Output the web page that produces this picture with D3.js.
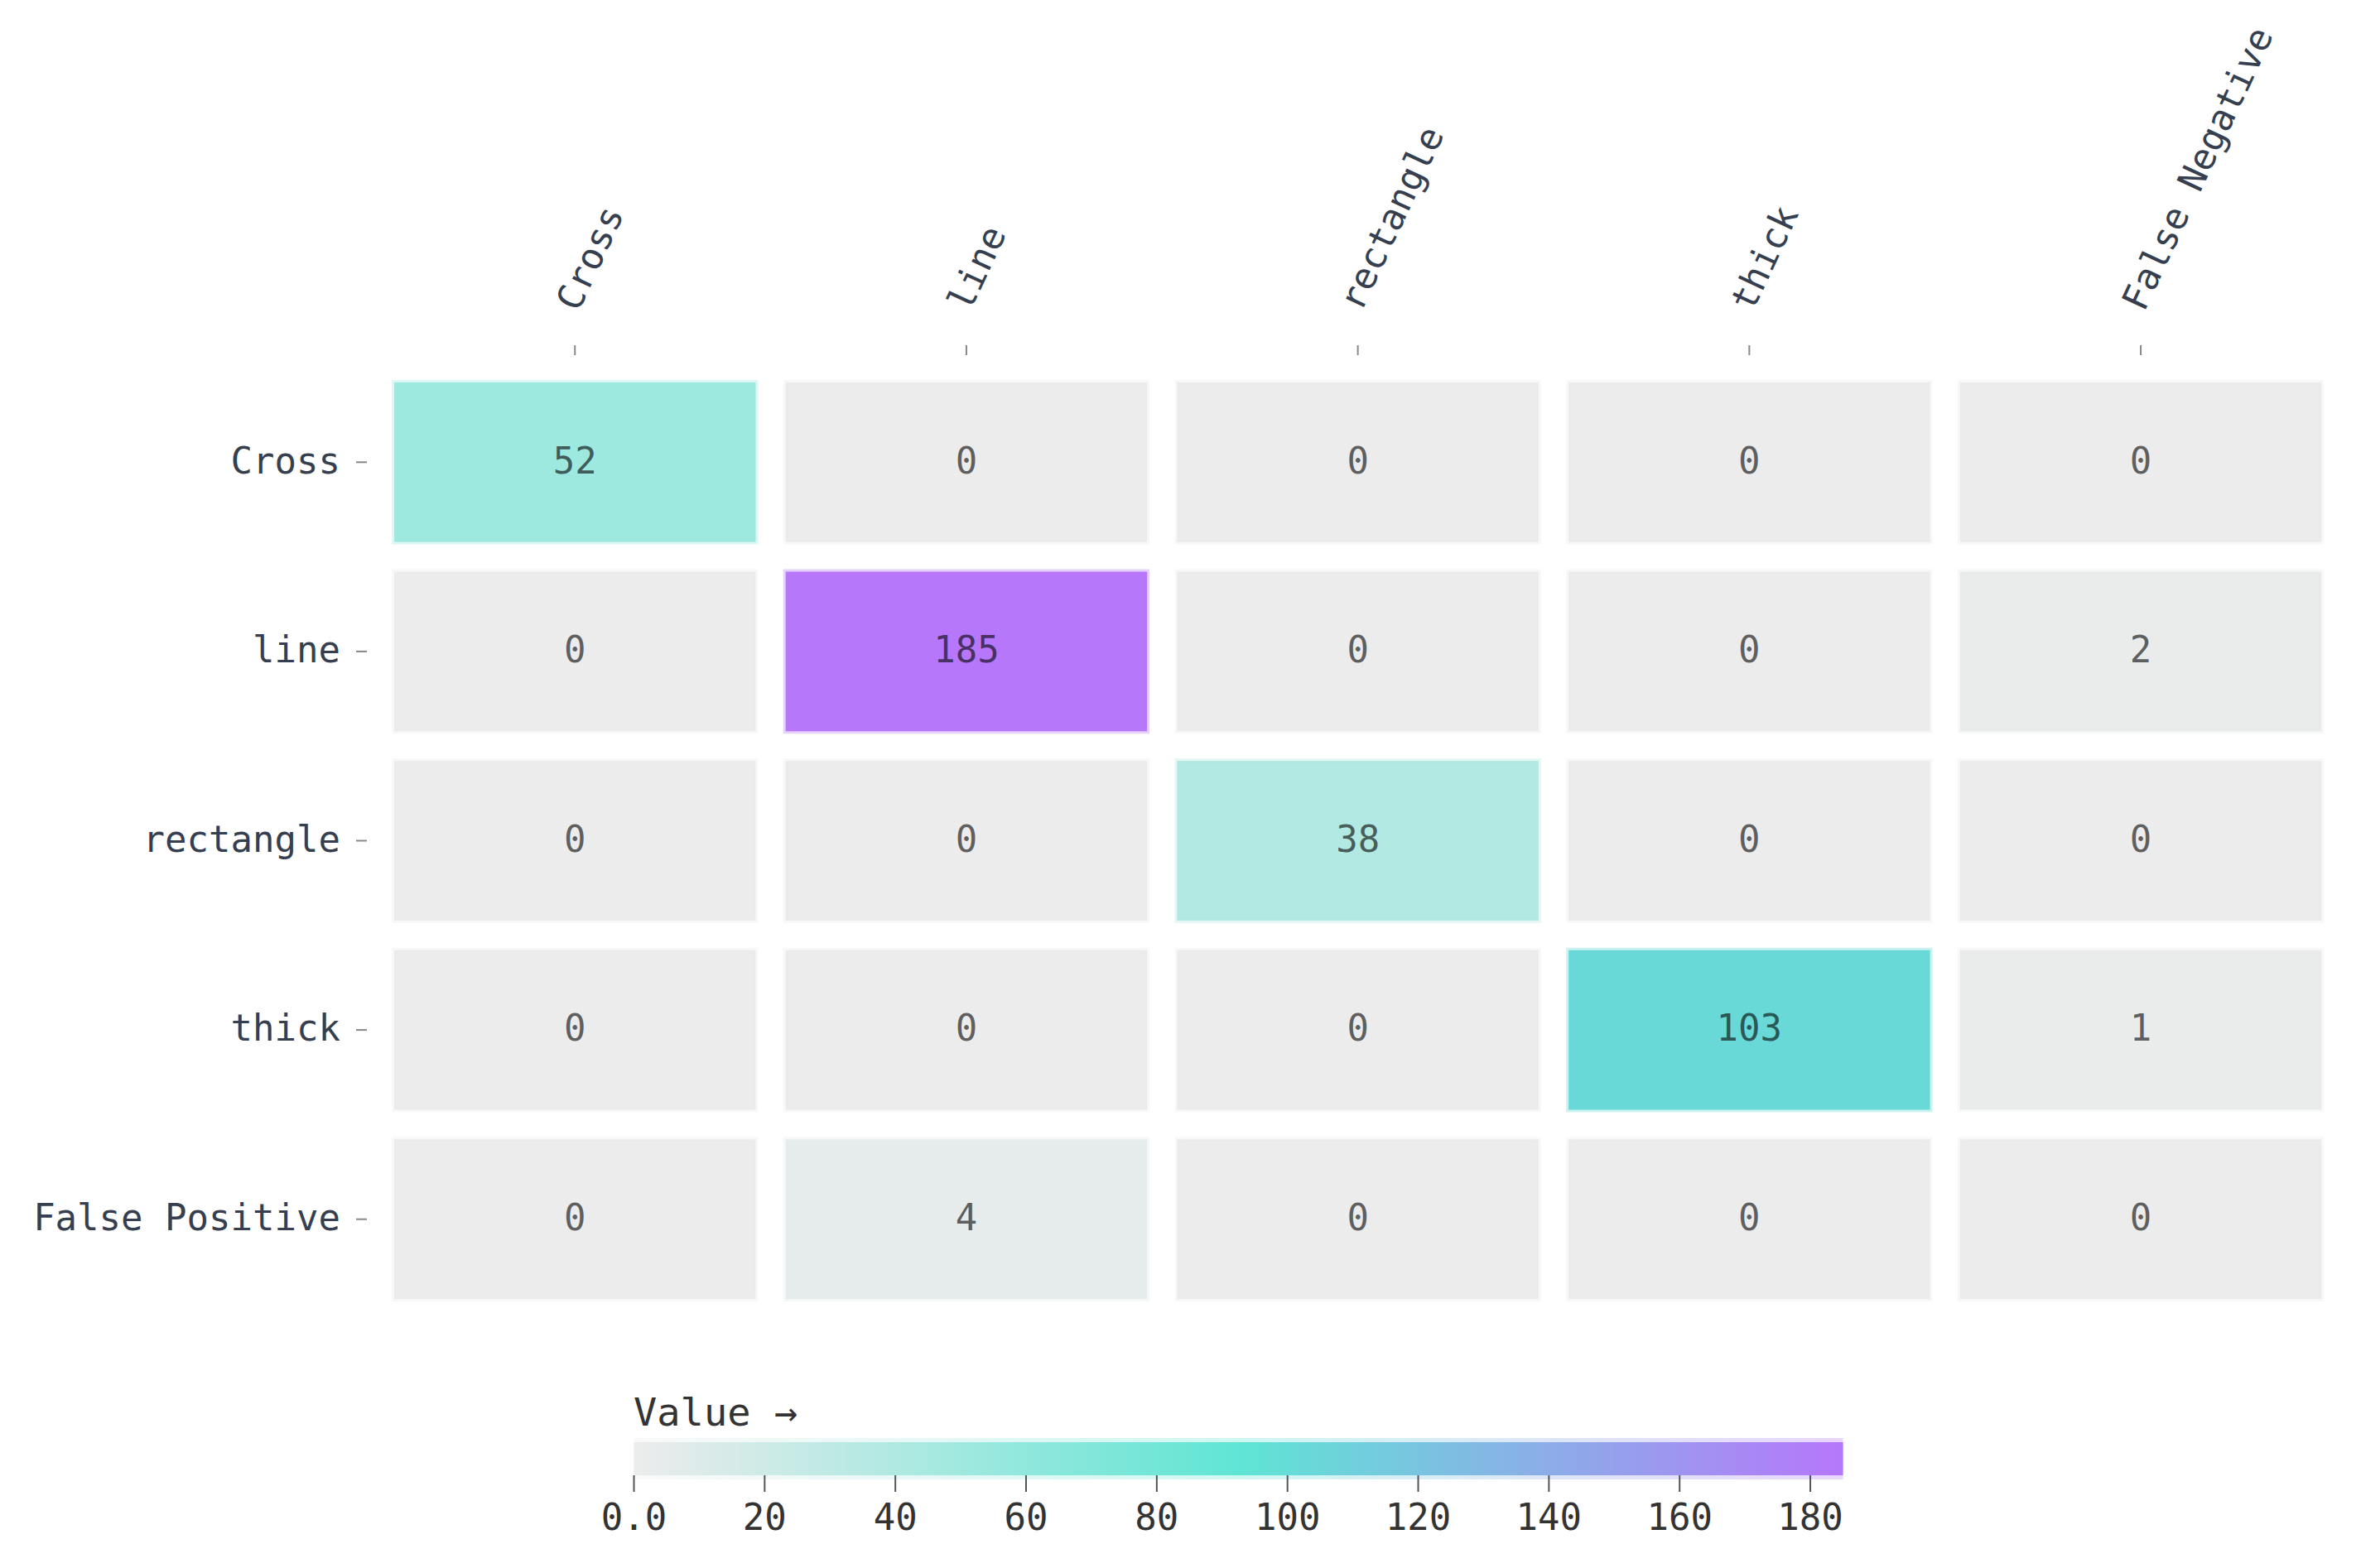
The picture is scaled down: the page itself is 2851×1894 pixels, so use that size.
<!DOCTYPE html>
<html>
<head>
<meta charset="utf-8">
<script src="https://cdn.jsdelivr.net/npm/d3@7"></script>
<style>
  html, body { margin: 0; padding: 0; background: #ffffff; }
  svg { display: block; }
  text { font-family: "DejaVu Sans Mono", "Liberation Mono", monospace; }
</style>
</head>
<body>
<svg id="chart" width="2851" height="1894"></svg>
<script>
// ---- data ----
const predicted = ["Cross", "line", "rectangle", "thick", "False Negative"];
const actual = ["Cross", "line", "rectangle", "thick", "False Positive"];
const rowCross = [52, 0, 0, 0, 0];
const rowLine = [0, 185, 0, 0, 2];
const rowRectangle = [0, 0, 38, 0, 0];
const rowThick = [0, 0, 0, 103, 1];
const rowFalsePositive = [0, 4, 0, 0, 0];
const legendTicks = [0, 20, 40, 60, 80, 100, 120, 140, 160, 180];
const legendTitle = "Value →";

const rows = [rowCross, rowLine, rowRectangle, rowThick, rowFalsePositive];
const cells = [];
rows.forEach((r, i) => r.forEach((v, j) => cells.push({ row: actual[i], col: predicted[j], value: v })));

const svg = d3.select("#chart");
const textColor = "#353f4f";
const fontSize = 44;

// ---- scales ----
const x = d3.scaleBand().domain(predicted).range([457.9, 2821.4]).paddingInner(0.0768).paddingOuter(0.0384);
const y = d3.scaleBand().domain(actual).range([444.0, 1587.0]).paddingInner(0.157).paddingOuter(0.0785);
const maxV = 185;
const color = d3.scaleLinear().domain([0, maxV / 2, maxV]).range(["#ececec", "#5fe5d4", "#b677fb"]).interpolate(d3.interpolateRgb).clamp(true);

// ---- cells ----
const g = svg.append("g");
g.selectAll("rect.cell").data(cells).join("rect")
  .attr("class", "cell")
  .attr("x", d => x(d.col))
  .attr("y", d => y(d.row))
  .attr("width", x.bandwidth())
  .attr("height", y.bandwidth())
  .attr("fill", d => color(d.value))
  .attr("stroke", d => color(d.value))
  .attr("stroke-opacity", 0.35)
  .attr("stroke-width", 6);

g.selectAll("text.val").data(cells).join("text")
  .attr("class", "val")
  .attr("x", d => x(d.col) + x.bandwidth() / 2)
  .attr("y", d => y(d.row) + y.bandwidth() / 2)
  .attr("text-anchor", "middle")
  .attr("dy", "0.3em")
  .attr("font-size", fontSize)
  .attr("fill", "#000")
  .attr("fill-opacity", 0.62)
  .text(d => d.value);

// ---- y axis (left) ----
const yAxis = svg.append("g");
yAxis.selectAll("line").data(actual).join("line")
  .attr("x1", 430).attr("x2", 443)
  .attr("y1", d => y(d) + y.bandwidth() / 2)
  .attr("y2", d => y(d) + y.bandwidth() / 2)
  .attr("stroke", "#888").attr("stroke-width", 2);
yAxis.selectAll("text").data(actual).join("text")
  .attr("x", 411)
  .attr("y", d => y(d) + y.bandwidth() / 2)
  .attr("dy", "0.3em")
  .attr("text-anchor", "end")
  .attr("font-size", fontSize)
  .attr("fill", textColor)
  .text(d => d);

// ---- x axis (top) ----
const xAxis = svg.append("g");
xAxis.selectAll("line").data(predicted).join("line")
  .attr("x1", d => x(d) + x.bandwidth() / 2)
  .attr("x2", d => x(d) + x.bandwidth() / 2)
  .attr("y1", 417).attr("y2", 429)
  .attr("stroke", "#888").attr("stroke-width", 2);
xAxis.selectAll("text").data(predicted).join("text")
  .attr("transform", d => `translate(${x(d) + x.bandwidth() / 2 + 4},378) rotate(-65)`)
  .attr("text-anchor", "start")
  .attr("font-size", fontSize)
  .attr("fill", textColor)
  .text(d => d);

// ---- legend ----
const lx = d3.scaleLinear().domain([0, maxV]).range([765.5, 2225.5]);
const defs = svg.append("defs");
const grad = defs.append("linearGradient").attr("id", "ramp").attr("x1", "0%").attr("x2", "100%");
d3.range(0, 1.0001, 0.05).forEach(t => {
  grad.append("stop").attr("offset", (t * 100) + "%").attr("stop-color", color(t * maxV));
});
const lg = svg.append("g");
lg.append("rect")
  .attr("x", lx(0)).attr("y", 1742)
  .attr("width", lx(maxV) - lx(0)).attr("height", 40)
  .attr("fill", "url(#ramp)");
lg.append("rect")
  .attr("x", lx(0)).attr("y", 1737)
  .attr("width", lx(maxV) - lx(0)).attr("height", 50)
  .attr("fill", "url(#ramp)").attr("fill-opacity", 0.3);
lg.selectAll("line.tick").data(legendTicks).join("line")
  .attr("class", "tick")
  .attr("x1", d => lx(d)).attr("x2", d => lx(d))
  .attr("y1", 1782).attr("y2", 1802)
  .attr("stroke", "#555").attr("stroke-width", 2);
lg.selectAll("text.tl").data(legendTicks).join("text")
  .attr("class", "tl")
  .attr("x", d => lx(d))
  .attr("y", 1833)
  .attr("dy", "0.35em")
  .attr("text-anchor", "middle")
  .attr("font-size", fontSize)
  .attr("fill", "#333")
  .text(d => d === 0 ? "0.0" : d3.format("d")(d));
lg.append("text")
  .attr("x", 765)
  .attr("y", 1722)
  .attr("font-size", 47)
  .attr("fill", "#333")
  .text(legendTitle);
</script>
</body>
</html>
